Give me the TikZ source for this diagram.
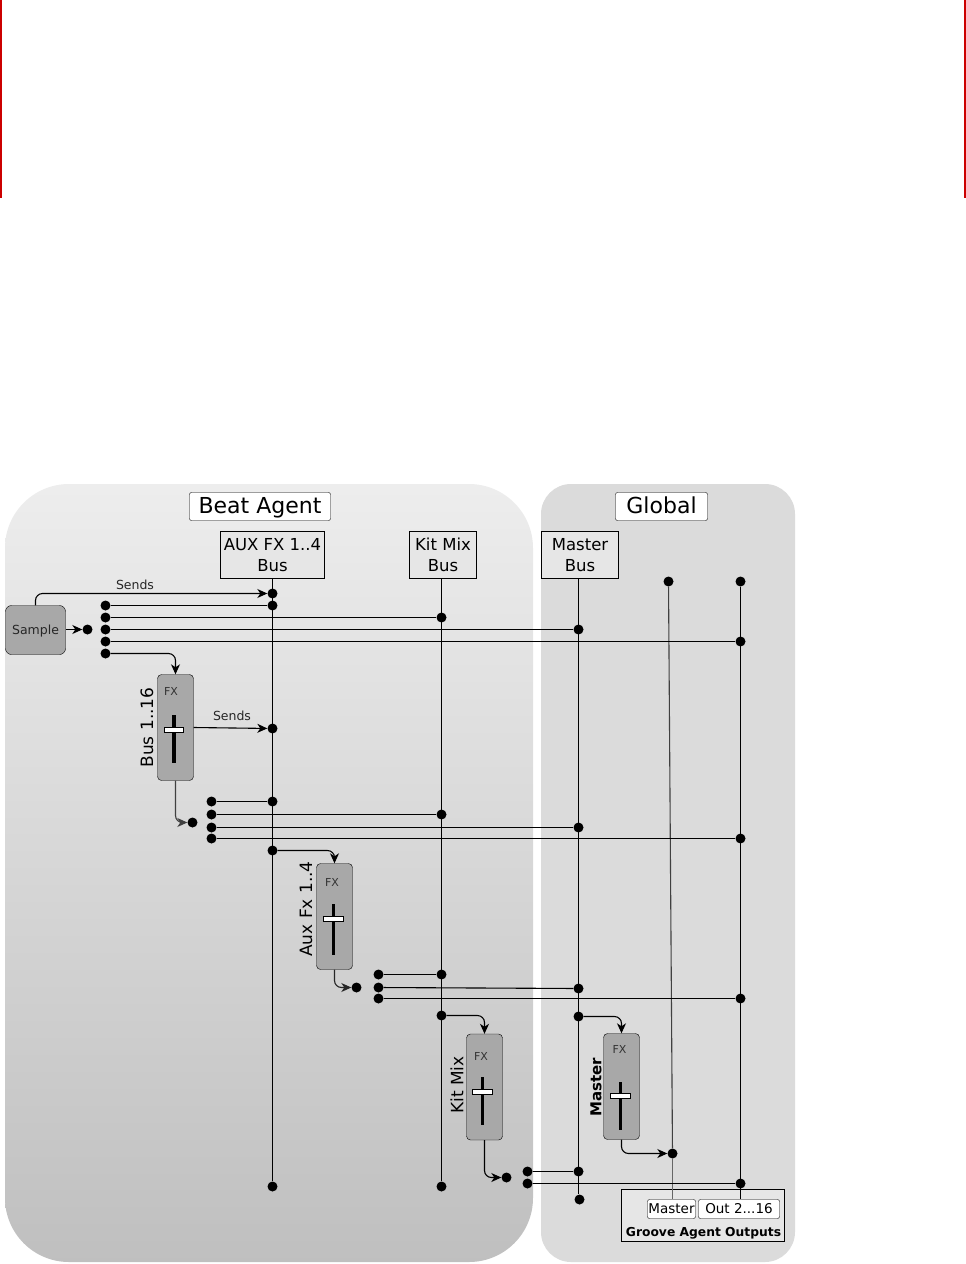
\documentclass[tikz,border=0pt]{standalone}
\usepackage{fontspec}
\setmainfont{DejaVu Sans}
\usetikzlibrary{arrows.meta}
\definecolor{boxgray}{HTML}{A8A8A8}
\definecolor{busgray}{HTML}{E6E6E6}
\begin{document}
\begin{tikzpicture}[x=1pt,y=-1pt,
   panel/.style n args={3}{minimum width=#1pt,minimum height=#2pt,rounded corners=#3pt,inner sep=0pt},
   title/.style n args={2}{draw,fill=white,rounded corners=2pt,minimum width=#1pt,minimum height=#2pt,inner sep=0pt,text height=17pt,text depth=3pt,font=\fontsize{22}{22}\selectfont},
   bus/.style n args={2}{draw,fill=busgray,minimum width=#1pt,minimum height=#2pt,inner sep=0pt,align=center,font=\fontsize{16.5}{21}\selectfont},
   strip/.style={draw,fill=boxgray,rounded corners=4pt,minimum width=36pt,minimum height=106pt,inner sep=0pt},
   lbl/.style={rotate=90,inner sep=0pt,font=\fontsize{17}{17}\selectfont},
   fx/.style={inner sep=0pt,text=black!80,font=\fontsize{11}{11}\selectfont},
   knob/.style={draw,fill=white,line width=0.8pt,minimum width=19.5pt,minimum height=5pt,inner sep=0pt},
   snd/.style={inner sep=0pt,text=black!85,font=\fontsize{12.5}{12.5}\selectfont},
   dot/.style={circle,fill=black,minimum size=10pt,inner sep=0pt},
   sig/.style={line width=1.1pt},
   arr/.style={line width=1.1pt,-{Stealth[length=10pt,width=9pt,inset=3pt]},rounded corners=7pt},
   outbox/.style={draw,fill=white,rounded corners=2pt,minimum height=19pt,inner sep=0pt,font=\fontsize{13.5}{13.5}\selectfont}]
\useasboundingbox (0,0) rectangle (966,1264);
\fill[red!80!black] (0,0) rectangle (2,198);
\fill[red!80!black] (964,0) rectangle (966,198);
\node[panel={528}{778}{64},top color=black!7,bottom color=black!25] (beatpanel) at (269,873) {};
\node[panel={254}{778}{30},fill=black!14] (globalpanel) at (668,873) {};
\node[title={141}{28}] (beat) at (260,506.5) {Beat Agent};
\node[title={92}{28}] (global) at (661.5,506.5) {Global};
\node[bus={104}{47}] (auxbus) at (272.5,555) {AUX FX 1..4\\Bus};
\node[bus={67}{47}] (kitbus) at (443,555) {Kit Mix\\Bus};
\node[bus={77}{47}] (masterbus) at (580,555) {Master\\Bus};
\node[draw,fill=boxgray,rounded corners=6pt,minimum width=60pt,minimum height=49pt,inner sep=0pt] (sample) at (35.5,630) {};
\node[snd] (samplelabel) at (35.5,631) {Sample};
\node[snd] (sends) at (135,584.5) {Sends};
\node[snd] (sendsb) at (232,715.5) {Sends};
\foreach \n/\x/\y/\lx/\ly/\t/\fxx/\fxy/\f/\ftop/\fbot/\k in %
{busstrip/175.5/727.5/147/727.5/Bus 1..16/171/691/174/715/763/730,
 auxstrip/334.5/916.5/306/909/Aux Fx 1..4/332/882/333.5/904/955/919,
 kitstrip/484.5/1087/457/1085/Kit Mix/481/1056/482.5/1077/1125/1092,
 masterstrip/621.5/1086.5/596/1087/\fontsize{15}{15}\selectfont\bfseries Master/619.5/1049/620.5/1082/1130/1096} {
   \node[strip] (\n) at (\x,\y) {};
   \node[lbl] (\n label) at (\lx,\ly) {\t};
   \node[fx] (\n fx) at (\fxx,\fxy) {FX};
   \draw[line width=3.5pt] (\f,\ftop) -- (\f,\fbot);
   \node[knob] (\n knob) at (\f,\k) {};
}
\node[draw,fill=busgray,minimum width=163pt,minimum height=52pt,inner sep=0pt] (groove) at (703,1215.5) {};
\node[inner sep=0pt,font=\bfseries\fontsize{12.3}{12.3}\selectfont] (groovelabel) at (703.5,1233.5) {Groove Agent Outputs};
\node[outbox,minimum width=48pt] (mout) at (671.5,1209) {Master};
\node[outbox,minimum width=81pt] (oout) at (739,1209) {Out 2...16};
\foreach \n/\x/\y in %
{a1/272/593,a2/272/605,a3/272/728,a4/272/801,a5/272/850,aend/272/1186,
 k1/441/617,k2/441/814,k3/441/974,k4/441/1015,kend/441/1186,
 m1/578/629,m2/578/827,m3/578/988,m4/578/1016,m5/578/1171,mend/579/1199,
 o1/740/641,o2/740/838,o3/740/998,o4/740/1183,otop/740/581,
 g1/668/581,g2/672/1153,
 s0/87/629,s1/105/605,s2/105/617,s3/105/629,s4/105/641,s5/105/653,
 b0/192/822,b1/211/801,b2/211/814,b3/211/827,b4/211/838,
 x0/356/987,x1/378/974,x2/378/987,x3/378/998,
 y0/506/1177,y1/527/1171,y2/527/1183} {
   \node[dot] (\n) at (\x+.5,\y+.5) {};
}
\draw[sig] (auxbus.south -| aend) -- (aend);
\draw[sig] (kitbus.south -| kend) -- (kend);
\draw[sig] (masterbus.south -| m1) -- (m1 |- mend.north);
\draw[sig] (otop) -- (oout.north -| otop);
\draw[sig,black!75] (g1) -- (g2);
\draw[sig,black!60] (g2) -- (mout.north -| g2);
\foreach \a/\b in {s1/a2,s2/k1,s3/m1,s4/o1,b1/a4,b2/k2,b3/m2,b4/o2,x1/k3,x2/m3,x3/o3,y1/m5,y2/o4} {
   \draw[sig] (\a) -- (\b);
}
\draw[arr] (sample.north) |- (a1);
\draw[arr] (sample.east |- s0) -- (s0);
\draw[arr] (busstrip.east) -- (a3);
\draw[arr] (s5) -| (busstrip.north);
\draw[arr,black!75] (busstrip.south) |- (b0);
\draw[arr] (a5) -| (auxstrip.north);
\draw[arr,black!85] (auxstrip.south) |- (x0);
\draw[arr] (k4) -| (kitstrip.north);
\draw[arr] (kitstrip.south) |- (y0);
\draw[arr] (m4) -| (masterstrip.north);
\draw[arr] (masterstrip.south) |- (g2);
\end{tikzpicture}
\end{document}
